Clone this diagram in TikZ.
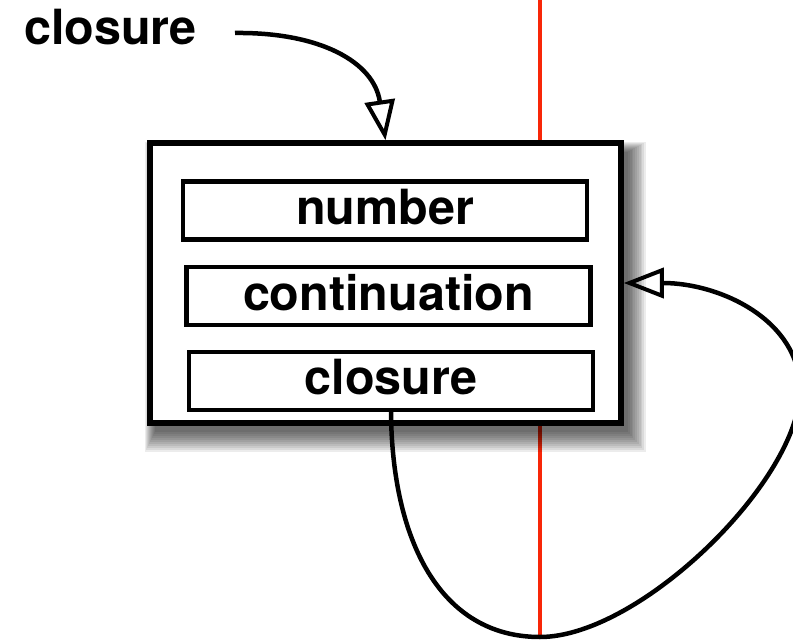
\documentclass[tikz,border=0pt]{standalone}
\usepackage{fontspec}
\setmainfont{TeX Gyre Heros}
\usetikzlibrary{arrows.meta}
\definecolor{redline}{RGB}{248,38,8}
\tikzset{
  outerbox/.style={draw=black, line width=5.5pt, fill=white, minimum width=471pt, minimum height=280pt, inner sep=0pt},
  fieldbox/.style={draw=black, line width=4.2pt, fill=white, minimum width=404pt, minimum height=58pt, inner sep=0pt,
    text depth=8pt, font=\fontsize{48.5}{58}\selectfont\bfseries},
  lbl/.style={font=\fontsize{48.5}{58}\selectfont\bfseries, inner sep=0pt},
  conn/.style={draw=black, line width=4.5pt, -{Triangle[open, length=40pt, width=30pt, line width=4pt]}},
}
\begin{document}
\begin{tikzpicture}[x=1pt,y=-1pt]
\useasboundingbox (0,0) rectangle (793,642);
\begin{scope}
\clip (0,0) rectangle (793,642);
% red line
\coordinate (rtop) at (540,-2);
\coordinate (rbot) at (540,637);
\draw[redline, line width=4pt] (rtop) -- (rbot);
% shadow
\foreach \r in {0,2,...,20}{
  \fill[black, opacity=0.075] (155-\r*0.5,152-\r*0.5) rectangle (628+\r*0.9,432+\r);
}
% boxes
\node[outerbox] (outer) at (385.5,283) {};
\node[fieldbox] (num) at (385,210.5) {number};
\node[fieldbox] (cont) at (388.5,296) {continuation};
\node[fieldbox] (clos) at (391,381) {closure};
% label
\node[lbl, anchor=base west] (toplbl) at (24,45) {closure};
\coordinate (start) at (235,33);
% connectors
\draw[conn] (start) .. controls (320,32) and (374,62) .. (outer.north);
\draw[conn] (clos.south) .. controls (392,540) and (440,637) .. (540,637)
   .. controls (640,637) and (800,480) .. (800,390)
   .. controls (800,320) and (720,283) .. (outer.east);
\end{scope}
\end{tikzpicture}
\end{document}
